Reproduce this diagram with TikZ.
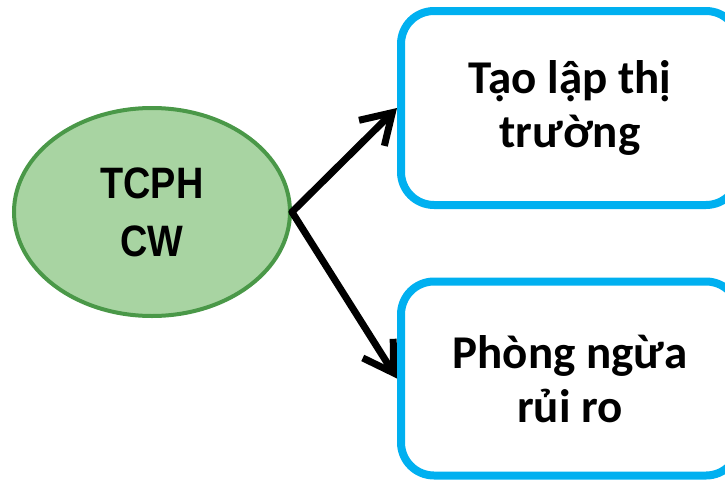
\documentclass[tikz,border=0pt]{standalone}
\usepackage{fontspec}
\usetikzlibrary{shapes.geometric,arrows.meta}
\newfontfamily\boxfont{Carlito}
\newfontfamily\ellfont[FakeStretch=0.86]{Liberation Sans}
\definecolor{boxblue}{RGB}{0,176,240}
\definecolor{ellfill}{RGB}{168,212,162}
\definecolor{elledge}{RGB}{74,152,72}
\tikzset{
  source/.style={ellipse, draw=elledge, fill=ellfill, line width=4pt,
    minimum width=276pt, minimum height=208pt, inner sep=0pt, align=center,
    font=\ellfont\bfseries\fontsize{44}{58}\selectfont},
  goal/.style={draw=boxblue, fill=white, line width=8pt, rounded corners=33pt,
    minimum width=338pt, minimum height=194pt, inner sep=0pt, align=center,
    font=\boxfont\bfseries\fontsize{47}{54}\selectfont},
  link/.style={line width=7pt, line cap=round, line join=round,
    -{Straight Barb[length=29pt, width=36pt, line width=7pt]}}
}
\begin{document}
\begin{tikzpicture}[x=1pt, y=-1pt]
  \useasboundingbox (0,0) rectangle (725,479);
  \begin{scope}
    \clip (0,0) rectangle (725,479);
    \node[source] (cw) at (152,212) {TCPH\\CW};
    \node[goal] (market) at (570,108) {Tạo lập thị\\trường};
    \node[goal] (hedge) at (570,378.5) {Phòng ngừa\\rủi ro};
    \draw[link] (cw.east) -- (market.west);
    \draw[link] (cw.east) -- (hedge.west);
  \end{scope}
\end{tikzpicture}
\end{document}
